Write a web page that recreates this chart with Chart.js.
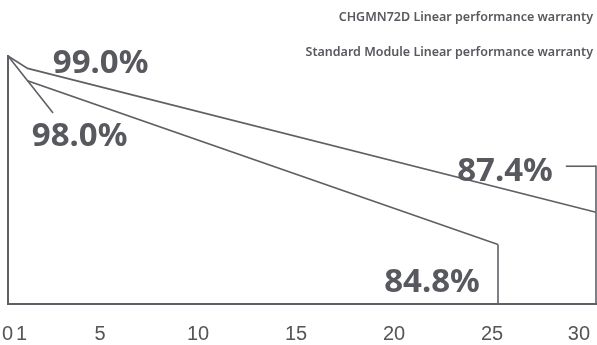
<!DOCTYPE html>
<html>
<head>
<meta charset="utf-8">
<script src="https://cdn.jsdelivr.net/npm/chart.js@4.4.1/dist/chart.umd.min.js"></script>
<style>
  html, body { margin: 0; padding: 0; background: #ffffff; }
  #wrap { width: 597px; height: 345px; position: relative; }
</style>
</head>
<body>
<div id="wrap"><canvas id="chart"></canvas></div>
<script>
// Warranted output (% of nominal power) by year of operation
const tickYears = [0, 1, 5, 10, 15, 20, 25, 30];
const seriesNames = [
  'CHGMN72D Linear performance warranty',
  'Standard Module Linear performance warranty'
];
const chgmnYears = [0, 1, 30];
const chgmnValues = [100, 99.0, 87.4];
const standardYears = [0, 1, 25];
const standardValues = [100, 98.0, 84.8];
const powerMin = 80;
const powerMax = 100;

const INK = '#5f6066';
const TEXT = '#58595e';

const toPoints = (xs, ys) => xs.map((x, i) => ({ x, y: ys[i] }));

// Value callouts: which point, and where the text sits relative to it
const callouts = [
  { ds: 0, idx: 1, dx: 73, dy: 4.6 },
  { ds: 1, idx: 1, dx: 52, dy: 65 },
  { ds: 0, idx: 2, dx: -91, dy: -31, leader: true },
  { ds: 1, idx: 2, dx: -66, dy: 47.5 }
];

const annotate = {
  id: 'annotate',
  afterDatasetsDraw(chart) {
    const { ctx, scales: { x, y } } = chart;
    const pos = (p) => ({ x: x.getPixelForValue(p.x), y: y.getPixelForValue(p.y) });
    const seg = (x1, y1, x2, y2) => { ctx.beginPath(); ctx.moveTo(x1, y1); ctx.lineTo(x2, y2); ctx.stroke(); };

    ctx.save();
    ctx.strokeStyle = INK;
    ctx.lineWidth = 1.6;
    ctx.lineCap = 'butt';

    // drop line from the end of each warranty line down to the axis
    chart.data.datasets.forEach((ds) => {
      const end = pos(ds.data[ds.data.length - 1]);
      seg(end.x, end.y, end.x, y.getPixelForValue(powerMin));
    });

    // first-year segment of the standard line, extended as a pointer
    const s0 = pos(chart.data.datasets[1].data[0]);
    const s1 = pos(chart.data.datasets[1].data[1]);
    const t = 2.3;
    seg(s1.x, s1.y, s0.x + (s1.x - s0.x) * t, s0.y + (s1.y - s0.y) * t);

    // value labels
    ctx.font = '700 33px "Noto Sans"';
    ctx.fillStyle = TEXT;
    ctx.textAlign = 'center';
    ctx.textBaseline = 'alphabetic';
    callouts.forEach((c) => {
      const d = chart.data.datasets[c.ds].data[c.idx];
      const p = pos(d);
      const label = d.y.toFixed(1) + '%';
      const tx = p.x + c.dx, ty = p.y + c.dy;
      ctx.fillText(label, tx, ty);
      if (c.leader) {
        const w = ctx.measureText(label).width;
        const ly = ty - 15;
        seg(tx + w / 2 + 13, ly, p.x, ly);
        seg(p.x, ly - 0.8, p.x, p.y);
      }
    });

    // series names, top right
    ctx.font = '600 12.5px "Noto Sans"';
    ctx.textAlign = 'right';
    ctx.fillStyle = TEXT;
    chart.data.datasets.forEach((ds, i) => {
      ctx.fillText(ds.label, chart.width - 4, 21 + i * 35);
    });
    ctx.restore();
  }
};

new Chart(document.getElementById('chart'), {
  type: 'line',
  data: {
    datasets: [
      { label: seriesNames[0], data: toPoints(chgmnYears, chgmnValues) },
      { label: seriesNames[1], data: toPoints(standardYears, standardValues) }
    ]
  },
  options: {
    responsive: true,
    maintainAspectRatio: false,
    animation: false,
    events: [],
    layout: { padding: { top: 56, left: 8, right: 1, bottom: 0 } },
    elements: {
      line: { borderColor: INK, borderWidth: 1.6, tension: 0, fill: false },
      point: { radius: 0 }
    },
    datasets: { line: { clip: false } },
    plugins: { legend: { display: false }, tooltip: { enabled: false } },
    scales: {
      x: {
        type: 'linear',
        min: 0,
        max: 30,
        grid: { display: false, drawTicks: false },
        border: { display: true, color: INK, width: 2 },
        afterBuildTicks: (s) => { s.ticks = tickYears.map((v) => ({ value: v })); },
        afterFit: (s) => {
          s.height = 41;
          s.paddingLeft = 0;
          s.paddingRight = 0;
        },
        ticks: {
          autoSkip: false,
          maxRotation: 0,
          align: 'inner',
          labelOffset: -6,
          padding: 18,
          color: '#555555',
          font: { family: '"Liberation Sans", Arial, sans-serif', size: 20 },
          callback: (v) => String(v)
        }
      },
      y: {
        type: 'linear',
        min: powerMin,
        max: powerMax,
        grid: { display: false, drawTicks: false },
        border: { display: true, color: INK, width: 2 },
        ticks: { display: false },
        afterFit: (s) => {
          s.width = 0;
          s.paddingTop = 0;
          s.paddingBottom = 0;
        }
      }
    }
  },
  plugins: [annotate]
});
</script>
</body>
</html>
